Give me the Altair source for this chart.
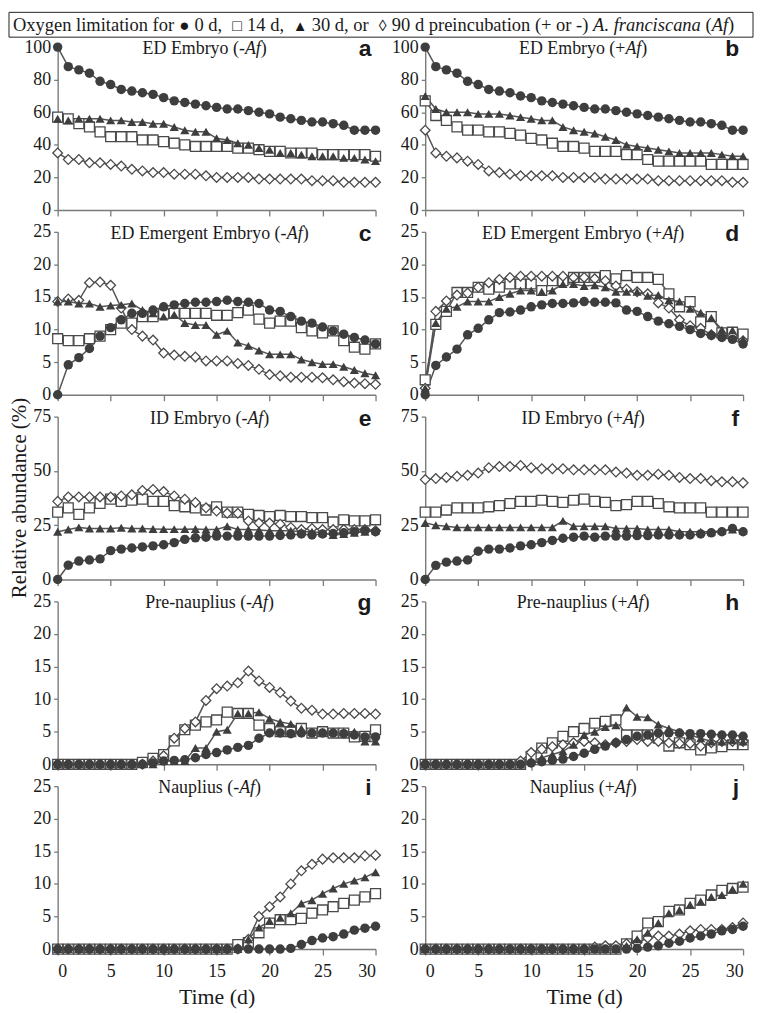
import altair as alt
import pandas as pd

DAYS = list(range(31))
SERIES = ["0 d", "14 d", "30 d", "90 d"]

# ---- panel a : ED Embryo (-Af)
A_0D = [100, 88, 86, 84, 79, 77, 74, 73, 72, 71, 69, 67, 66, 65, 64, 63, 62, 62, 61, 60, 59, 57, 56, 55, 54, 54, 53, 52, 49, 49, 49]
A_14D = [57, 56, 53, 51, 48, 45, 45, 45, 43, 43, 42, 41, 40, 39, 39, 39, 39, 38, 38, 37, 36, 36, 35, 35, 35, 34, 34, 34, 34, 34, 33]
A_30D = [56, 55, 56, 56, 56, 55, 55, 54, 54, 53, 53, 51, 49, 48, 48, 44, 43, 41, 40, 38, 37, 35, 35, 34, 33, 33, 33, 32, 32, 31, 30]
A_90D = [35, 31, 31, 29, 29, 28, 27, 25, 24, 23, 23, 22, 22, 22, 21, 20, 20, 20, 20, 19, 19, 19, 19, 19, 18, 18, 18, 17, 17, 17, 17]
# ---- panel b : ED Embryo (+Af)
B_0D = [100, 88, 86, 84, 79, 77, 74, 73, 72, 70, 69, 67, 66, 65, 64, 63, 62, 62, 61, 60, 59, 58, 57, 56, 55, 54, 54, 53, 52, 49, 49]
B_14D = [67, 58, 55, 51, 49, 49, 48, 48, 47, 46, 44, 43, 41, 39, 39, 38, 36, 36, 36, 34, 34, 31, 30, 30, 30, 30, 30, 28, 28, 28, 28]
B_30D = [70, 62, 60, 60, 60, 59, 59, 59, 58, 57, 56, 55, 55, 51, 49, 48, 47, 45, 43, 40, 39, 38, 37, 36, 35, 35, 35, 35, 34, 33, 33]
B_90D = [49, 35, 33, 32, 30, 28, 24, 23, 22, 21, 21, 21, 21, 20, 20, 20, 20, 19, 19, 19, 19, 19, 18, 18, 18, 18, 18, 18, 18, 17, 17]
# ---- panel c : ED Emergent Embryo (-Af)
C_0D = [0, 4.6, 5.7, 7.1, 9.0, 10.3, 11.5, 12.5, 12.5, 13.0, 13.5, 13.8, 14.0, 14.2, 14.2, 14.3, 14.5, 14.3, 14.2, 14.0, 13.0, 12.8, 12.0, 11.3, 11.0, 10.4, 9.8, 9.3, 8.8, 8.4, 7.8]
C_14D = [8.6, 8.3, 8.3, 8.6, 9.0, 10.0, 11.0, 11.0, 12.0, 12.0, 12.4, 12.5, 12.5, 12.5, 12.5, 12.2, 12.2, 12.6, 13.0, 11.6, 11.0, 11.3, 11.3, 10.3, 9.8, 9.5, 9.8, 8.3, 7.3, 7.0, 7.8]
C_30D = [14.3, 14.3, 14.0, 14.0, 13.5, 13.7, 13.8, 14.0, 13.0, 12.5, 12.0, 12.3, 11.0, 10.7, 10.7, 9.2, 9.8, 8.0, 7.5, 6.8, 6.2, 6.2, 6.2, 5.4, 5.0, 4.7, 4.7, 4.3, 3.8, 3.3, 3.0]
C_90D = [14.3, 14.7, 14.5, 17.2, 17.3, 16.8, 13.3, 10.0, 9.0, 8.4, 6.4, 6.1, 5.9, 5.8, 5.2, 5.2, 5.2, 4.8, 4.5, 3.9, 3.1, 2.9, 2.7, 2.7, 2.7, 2.6, 2.3, 2.0, 1.8, 1.7, 1.6]
# ---- panel d : ED Emergent Embryo (+Af)
D_0D = [0, 4.5, 5.8, 7.0, 9.2, 10.2, 11.5, 12.6, 12.7, 13.0, 13.5, 13.8, 14.0, 14.0, 14.1, 14.3, 14.2, 14.2, 14.1, 13.0, 12.8, 12.0, 11.3, 10.9, 10.5, 10.0, 9.4, 9.1, 8.8, 8.5, 7.8]
D_14D = [2.3, 10.8, 12.8, 15.7, 15.7, 16.5, 16.2, 16.5, 17.0, 17.0, 17.0, 16.0, 17.5, 17.5, 18.0, 18.0, 18.0, 18.3, 17.8, 18.3, 18.0, 18.0, 17.7, 15.5, 13.5, 14.3, 11.2, 12.0, 9.5, 9.6, 9.3]
D_30D = [1.0, 11.0, 13.2, 13.5, 14.3, 14.3, 14.3, 15.0, 15.5, 16.0, 16.0, 15.8, 16.0, 17.0, 17.0, 16.7, 16.8, 16.5, 15.8, 15.8, 15.8, 15.2, 15.3, 14.5, 14.3, 13.2, 12.6, 11.8, 10.0, 9.9, 8.5]
D_90D = [1.0, 12.8, 14.4, 15.3, 15.6, 16.5, 17.2, 17.7, 18.0, 18.2, 18.2, 18.2, 18.2, 18.2, 18.0, 18.0, 17.8, 17.5, 16.7, 16.2, 15.8, 15.5, 14.1, 13.3, 11.5, 10.6, 10.2, 9.2, 9.2, 9.0, 8.3]
# ---- panel e : ID Embryo (-Af)
E_0D = [0, 6.6, 8.5, 9.0, 9.5, 13.3, 14.0, 14.5, 15.0, 15.5, 16.0, 17.0, 18.5, 19.2, 19.5, 20.0, 20.0, 20.0, 20.0, 20.0, 20.0, 20.3, 20.5, 21.0, 20.5, 21.0, 21.2, 21.5, 22.0, 22.5, 22.0]
E_14D = [31, 33, 30, 33, 35, 37, 36, 36.5, 37, 36, 36, 34, 33.5, 33, 32, 33.5, 31, 31, 30, 29.5, 29, 29.5, 29, 29, 28.5, 28.5, 26.5, 27.5, 27, 27, 27.5]
E_30D = [22, 23, 24, 23.5, 23.5, 23.5, 23.8, 23.5, 23.5, 23.3, 23.2, 23.2, 23.2, 23.3, 23, 23, 24.5, 23, 23, 22.8, 22.5, 22.5, 22.5, 22, 22, 21.5, 20.5, 21, 21.5, 22, 22.5]
E_90D = [36, 38, 38, 38, 38, 38, 38.5, 39, 41, 41.5, 40.5, 38.5, 37, 35.5, 33, 31.5, 30.5, 30.5, 27, 26, 26, 25.5, 24, 23, 23.5, 23, 23, 23, 23, 23, 22.5]
# ---- panel f : ID Embryo (+Af)
F_0D = [0, 6.5, 8, 8.5, 9, 13, 14, 14, 14.5, 15.5, 16, 17, 18, 19, 19.5, 20, 19.5, 20, 20, 20, 20.2, 20.2, 20.5, 20.5, 20.5, 20.5, 21, 21.5, 22, 23.5, 22]
F_14D = [31, 31, 32, 33, 33, 33, 33.5, 34, 35, 36, 36, 36.5, 36, 35.5, 36.5, 37, 36, 35.5, 34, 34.5, 36, 36, 35, 33.5, 33, 33, 33, 31, 31, 31, 31]
F_30D = [26, 25, 24.5, 24, 24, 24, 24, 24, 24, 24, 24, 24, 24, 27, 24.5, 24.5, 24.5, 24.5, 23.5, 23.5, 23.5, 23, 23, 23, 22, 22, 22, 22, 22.5, 23, 22.5]
F_90D = [46, 46.5, 47, 47.5, 48, 49, 51.5, 52, 52, 52.5, 51.5, 51, 51, 51, 50.5, 50.5, 50.5, 50.5, 49.5, 49, 48, 48, 48.5, 48, 47, 46.5, 46.5, 45.5, 45, 45, 44.5]
# ---- panel g : Pre-nauplius (-Af)
G_0D = [0, 0, 0, 0, 0, 0, 0, 0, 0, 0.2, 0.5, 0.6, 0.7, 1.0, 1.5, 1.8, 2.2, 2.6, 2.9, 4.0, 4.8, 4.8, 4.7, 4.8, 4.8, 4.8, 4.8, 4.7, 4.5, 4.2, 4.2]
G_14D = [0, 0, 0, 0, 0, 0, 0, 0, 0.3, 0.9, 1.5, 3.6, 5.3, 6.0, 6.5, 6.8, 8.0, 7.8, 7.8, 6.0, 5.5, 5.0, 5.0, 5.5, 4.8, 5.0, 4.8, 4.8, 4.2, 4.3, 5.3]
G_30D = [0, 0, 0, 0, 0, 0, 0, 0, 0, 0, 0.5, 0.5, 0.5, 2.5, 2.5, 5.0, 5.3, 7.8, 7.8, 8.0, 7.0, 6.5, 6.2, 5.5, 5.0, 5.0, 5.0, 5.0, 5.0, 3.5, 3.5]
G_90D = [0, 0, 0, 0, 0, 0, 0, 0, 0, 0.5, 1.3, 4.0, 5.5, 6.5, 9.8, 11.6, 12.0, 12.5, 14.3, 12.8, 11.8, 11.0, 9.7, 8.6, 8.3, 7.7, 7.7, 7.8, 7.8, 7.8, 7.7]
# ---- panel h : Pre-nauplius (+Af)
H_0D = [0, 0, 0, 0, 0, 0, 0, 0, 0, 0, 0.2, 0.4, 0.6, 0.8, 1.2, 1.7, 2.3, 2.8, 3.3, 3.8, 4.3, 4.5, 4.8, 4.8, 4.8, 4.7, 4.7, 4.6, 4.5, 4.5, 4.3]
H_14D = [0, 0, 0, 0, 0, 0, 0, 0, 0, 0, 1.2, 2.5, 3.3, 4.3, 5.0, 5.5, 6.3, 6.6, 6.8, 4.5, 4.5, 4.5, 4.0, 2.8, 3.3, 3.0, 2.2, 2.5, 2.7, 3.0, 3.0]
H_30D = [0, 0, 0, 0, 0, 0, 0, 0, 0, 0, 0.5, 1.0, 1.5, 2.0, 3.0, 4.5, 5.0, 5.7, 6.0, 8.7, 7.3, 7.2, 6.1, 5.5, 5.0, 4.5, 4.0, 3.5, 3.5, 3.7, 3.5]
H_90D = [0, 0, 0, 0, 0, 0, 0, 0, 0, 0.5, 1.8, 2.3, 2.7, 3.0, 3.3, 3.5, 3.3, 3.0, 3.3, 3.5, 3.8, 3.5, 3.5, 3.3, 3.2, 3.2, 2.8, 3.3, 3.5, 3.5, 3.5]
# ---- panel i : Nauplius (-Af)
I_0D = [0, 0, 0, 0, 0, 0, 0, 0, 0, 0, 0, 0, 0, 0, 0, 0, 0, 0, 0, 0, 0, 0, 0.1, 0.7, 1.3, 1.7, 1.9, 2.3, 2.9, 3.2, 3.5]
I_14D = [0, 0, 0, 0, 0, 0, 0, 0, 0, 0, 0, 0, 0, 0, 0, 0, 0, 0.7, 1.0, 2.5, 4.0, 4.5, 4.5, 4.7, 5.5, 6.0, 6.5, 7.0, 7.5, 8.0, 8.5]
I_30D = [0, 0, 0, 0, 0, 0, 0, 0, 0, 0, 0, 0, 0, 0, 0, 0, 0, 0, 1.5, 3.3, 4.3, 4.8, 5.5, 7.0, 7.5, 8.5, 9.3, 10.0, 10.5, 11.0, 11.8]
I_90D = [0, 0, 0, 0, 0, 0, 0, 0, 0, 0, 0, 0, 0, 0, 0, 0, 0, 0, 1.5, 5.0, 6.5, 8.0, 10.0, 12.0, 13.0, 13.8, 14.0, 14.0, 14.0, 14.3, 14.4]
# ---- panel j : Nauplius (+Af)
J_0D = [0, 0, 0, 0, 0, 0, 0, 0, 0, 0, 0, 0, 0, 0, 0, 0, 0, 0, 0, 0, 0.1, 0.3, 0.5, 0.9, 1.2, 1.7, 2.0, 2.3, 2.8, 3.0, 3.5]
J_14D = [0, 0, 0, 0, 0, 0, 0, 0, 0, 0, 0, 0, 0, 0, 0, 0, 0, 0, 0, 0.8, 2.0, 4.0, 4.2, 5.8, 6.0, 7.0, 7.5, 8.3, 9.0, 9.3, 9.5]
J_30D = [0, 0, 0, 0, 0, 0, 0, 0, 0, 0, 0, 0, 0, 0, 0, 0, 0, 0, 0, 0.5, 1.5, 2.5, 4.0, 5.5, 6.0, 6.8, 7.3, 8.0, 8.3, 9.2, 10.0]
J_90D = [0, 0, 0, 0, 0, 0, 0, 0, 0, 0, 0, 0, 0, 0, 0, 0, 0.3, 0.5, 0.5, 0.8, 1.0, 1.7, 2.0, 2.0, 2.3, 2.8, 3.0, 3.0, 3.0, 3.3, 4.0]

PANEL_DATA = {
    "a": [A_0D, A_14D, A_30D, A_90D], "b": [B_0D, B_14D, B_30D, B_90D],
    "c": [C_0D, C_14D, C_30D, C_90D], "d": [D_0D, D_14D, D_30D, D_90D],
    "e": [E_0D, E_14D, E_30D, E_90D], "f": [F_0D, F_14D, F_30D, F_90D],
    "g": [G_0D, G_14D, G_30D, G_90D], "h": [H_0D, H_14D, H_30D, H_90D],
    "i": [I_0D, I_14D, I_30D, I_90D], "j": [J_0D, J_14D, J_30D, J_90D],
}
TITLES = {
    "a": "ED Embryo", "b": "ED Embryo", "c": "ED Emergent Embryo", "d": "ED Emergent Embryo",
    "e": "ID Embryo", "f": "ID Embryo", "g": "Pre-nauplius", "h": "Pre-nauplius",
    "i": "Nauplius", "j": "Nauplius",
}
Y_MAX = {"a": 100, "b": 100, "c": 25, "d": 25, "e": 75, "f": 75, "g": 25, "h": 25, "i": 25, "j": 25}
Y_TICKS = {100: [0, 20, 40, 60, 80, 100], 75: [0, 25, 50, 75], 25: [0, 5, 10, 15, 20, 25]}
X_TICKS = [0, 5, 10, 15, 20, 25, 30]

SERIF = "Liberation Serif"
SANS = "Liberation Sans"
W, H = 320, 164
LINE_C = "#555555"
FILL_C = "#3e3e3e"
OPEN_C = "#4a4a4a"
TXT_C = "#1a1a1a"
AX_C = "#7a7a7a"

NORMAL = {' ': 250, '(': 333, ')': 333, '-': 333, '+': 564, ',': 250, '.': 250, '%': 833,
          '0': 500, '1': 500, '3': 500, '4': 500, '9': 500,
          'A': 722, 'D': 722, 'E': 611, 'I': 333, 'N': 722, 'O': 722, 'P': 556, 'R': 667,
          'a': 444, 'b': 500, 'c': 444, 'd': 500, 'e': 444, 'f': 333, 'g': 500, 'i': 278,
          'l': 278, 'm': 778, 'n': 500, 'o': 500, 'p': 500, 'r': 333, 's': 389, 't': 278,
          'u': 500, 'v': 500, 'x': 500, 'y': 500}
ITALIC = {' ': 250, '.': 250, 'A': 611, 'a': 500, 'c': 444, 'f': 278, 'i': 278, 'n': 500, 'r': 389, 's': 389}


def tw(s, size, italic=False):
    table = ITALIC if italic else NORMAL
    return sum(table.get(ch, 500) for ch in s) * size / 1000.0


ONE = pd.DataFrame({"k": [0]})


def deco_text(text, x, y, size, font=SERIF, italic=False, bold=False, align="left",
              baseline="alphabetic", angle=0):
    kw = dict(text=text, font=font, fontSize=size, align=align, baseline=baseline,
              color=TXT_C, fontWeight="bold" if bold else "normal",
              fontStyle="italic" if italic else "normal")
    if angle:
        kw["angle"] = angle
    return alt.Chart(ONE).mark_text(**kw).encode(x=alt.value(x), y=alt.value(y))


def legend_layers():
    out = [alt.Chart(ONE).mark_rect(fill="white", stroke="#222222", strokeWidth=1).encode(
        x=alt.value(-49), x2=alt.value(700), y=alt.value(-35), y2=alt.value(-10))]
    ls = 18.6
    ly = -16.5
    sp = tw(" ", ls)
    # (text, italic, symbol slot width in em or 0, symbol font size, spaces after)
    segs = [("Oxygen limitation for", False, 0, 0, 1),
            ("\u25cf", False, 0.6, 17, 1), ("0 d,", False, 0, 0, 2),
            ("\u25a1", False, 0.6, 16, 1), ("14 d,", False, 0, 0, 2),
            ("\u25b2", False, 0.75, 15, 1), ("30 d, or", False, 0, 0, 2),
            ("\u25ca", False, 0.5, 16, 1), ("90 d preincubation (+ or -)", False, 0, 0, 1),
            ("A. franciscana", True, 0, 0, 1), ("(", False, 0, 0, 0), ("Af", True, 0, 0, 0),
            (")", False, 0, 0, 0)]
    cur = -45.0
    for txt, it, slot, ssz, nsp in segs:
        if slot:
            w = slot * ls
            out.append(deco_text(txt, cur + w / 2, ly, ssz, align="center"))
        else:
            w = tw(txt, ls, it)
            out.append(deco_text(txt, cur, ly, ls, italic=it))
        cur += w + nsp * sp
    return out


def panel(key, right, bottom):
    rows = []
    for s, vals in zip(SERIES, PANEL_DATA[key]):
        for d, v in zip(DAYS, vals):
            rows.append({"day": d, "v": v, "s": s})
    df = pd.DataFrame(rows)
    ymax = Y_MAX[key]

    x_axis_kw = dict(values=X_TICKS, tickSize=6, labels=bottom, labelPadding=8,
                     labelFont=SERIF, labelFontSize=18, labelColor=TXT_C,
                     domainColor=AX_C, tickColor=AX_C, domainWidth=1.4, tickWidth=1.3)
    if bottom:
        x_axis_kw.update(titleFont=SERIF, titleFontSize=22, titleFontWeight="normal",
                         titleColor=TXT_C, titlePadding=6)
    x = alt.X("day:Q", scale=alt.Scale(domain=[0, 30], nice=False),
              axis=alt.Axis(**x_axis_kw), title="Time (d)" if bottom else None)
    y = alt.Y("v:Q", scale=alt.Scale(domain=[0, ymax], nice=False),
              axis=alt.Axis(values=Y_TICKS[ymax], tickSize=4, labelPadding=3,
                            labelFont=SERIF, labelFontSize=18, labelColor=TXT_C,
                            domainColor=AX_C, tickColor=AX_C, domainWidth=1.4,
                            tickWidth=1.3), title=None)

    base = alt.Chart(df)
    layers = [base.mark_line(color=LINE_C, strokeWidth=1.5).encode(x=x, y=y, detail="s:N")]
    styles = [
        ("14 d", dict(shape="square", size=100, filled=False, fill="white", stroke=OPEN_C, strokeWidth=1.3, opacity=1)),
        ("90 d", dict(shape="diamond", size=95, filled=False, fill="white", stroke=OPEN_C, strokeWidth=1.3, opacity=1)),
        ("30 d", dict(shape="triangle-up", size=85, filled=True, color=FILL_C, opacity=1)),
        ("0 d", dict(shape="circle", size=90, filled=True, color=FILL_C, opacity=1)),
    ]
    for s, st in styles:
        layers.append(base.transform_filter(alt.datum.s == s).mark_point(**st).encode(x=x, y=y))

    # panel title with italic "Af"
    sign = "(+" if right else "(-"
    pre = TITLES[key] + " " + sign
    size = 18
    total = tw(pre, size) + tw("Af", size, True) + tw(")", size)
    cx = 159 if right else (148 if key == "a" else 153)
    x0 = cx - total / 2
    ty = 7
    layers.append(deco_text(pre, x0, ty, size))
    layers.append(deco_text("Af", x0 + tw(pre, size), ty, size, italic=True))
    layers.append(deco_text(")", x0 + tw(pre, size) + tw("Af", size, True), ty, size))
    # panel letter
    layers.append(deco_text(key, 316, 9, 23, font=SANS, bold=True, align="right"))

    if key == "a":
        layers = legend_layers() + layers
    if key == "e":
        layers.append(deco_text("Relative abundance (%)", -38, H / 2, 21, align="center",
                                baseline="middle", angle=270))

    return alt.layer(*layers).properties(width=W, height=H)


order = ["a", "b", "c", "d", "e", "f", "g", "h", "i", "j"]
panels = []
for n, k in enumerate(order):
    panels.append(panel(k, right=(n % 2 == 1), bottom=(n >= 8)))

chart = alt.concat(*panels, columns=2, spacing={"row": 22, "column": 50}, bounds="flush").properties(
    padding=0
).configure(font=SERIF).configure_view(stroke=None).configure_axis(
    grid=False, labelFont=SERIF, titleFont=SERIF,
)

chart.save("out.html", embed_options={"renderer": "svg", "actions": False})
